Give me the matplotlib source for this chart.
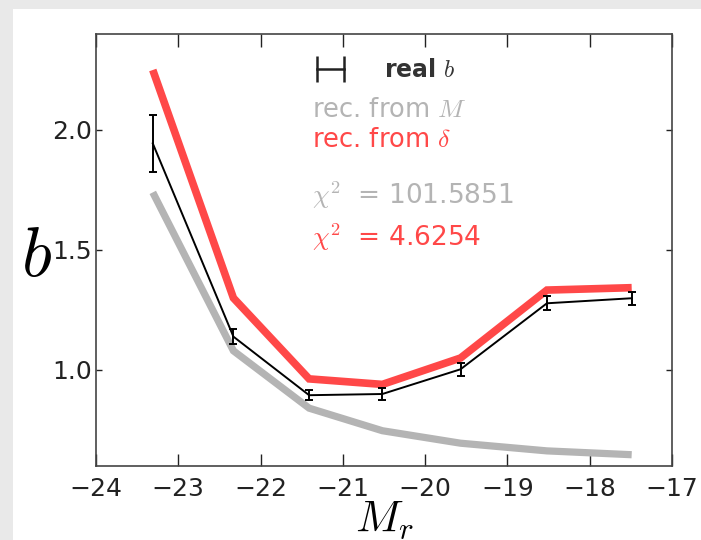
import matplotlib
matplotlib.use("Agg")
import matplotlib.pyplot as plt
from matplotlib.lines import Line2D
from matplotlib.patches import Rectangle
from matplotlib.legend_handler import HandlerLine2D

plt.rcParams['mathtext.fontset'] = 'cm'
plt.rcParams['font.family'] = ['DejaVu Sans']

# Data
mag = [-23.31, -22.33, -21.41, -20.52, -19.57, -18.52, -17.49]
b_real = [1.944, 1.139, 0.895, 0.900, 1.003, 1.278, 1.299]
b_err = [0.119, 0.03, 0.022, 0.024, 0.026, 0.03, 0.027]
b_rec_M = [1.74, 1.08, 0.841, 0.747, 0.695, 0.663, 0.647]
b_rec_delta = [2.25, 1.30, 0.963, 0.940, 1.050, 1.333, 1.343]
chi2_M = "101.5851"
chi2_delta = "4.6254"
xticks = [-24, -23, -22, -21, -20, -19, -18, -17]
yticks = [1.0, 1.5, 2.0]

RED = '#ff4848'
GRAY = '#b4b4b4'

fig = plt.figure(figsize=(7.01, 5.40), dpi=100)
fig.patch.set_facecolor('#e9e9e9')
card = Rectangle((13/701, 0), 1 - 13/701, 1 - 9/540, transform=fig.transFigure,
                 facecolor='white', edgecolor='none', zorder=-5)
fig.add_artist(card)

ax = fig.add_axes([96/701, 1 - 466/540, 576/701, 432/540])
ax.set_facecolor('white')

ax.plot(mag, b_rec_M, color=GRAY, lw=5.2, solid_capstyle='butt', solid_joinstyle='miter', zorder=2)
ax.plot(mag, b_rec_delta, color=RED, lw=5.5, solid_capstyle='butt', solid_joinstyle='miter', zorder=3)
ax.errorbar(mag, b_real, yerr=b_err, color='black', lw=1.4, elinewidth=1.4,
            capsize=2.6, capthick=1.4, zorder=4)

ax.set_xlim(-24, -17)
ax.set_ylim(0.6, 2.4)
ax.set_xticks(xticks)
ax.set_yticks(yticks)
ax.set_yticklabels(['1.0', '1.5', '2.0'])
ax.tick_params(axis='both', direction='in', top=True, right=True, labelsize=18,
               colors='#222222', width=1.0)
ax.tick_params(axis='x', length=9, pad=8)
ax.tick_params(axis='y', length=4, pad=3)
for s in ax.spines.values():
    s.set_color('#444444')
    s.set_linewidth(1.2)

ax.set_xlabel('$M_r$', fontsize=32, labelpad=-2)
ax.set_ylabel('$b$', fontsize=50, rotation=0, labelpad=0, va='center', ha='center')
ax.yaxis.set_label_coords(-0.103, 0.485)

handle = Line2D([], [], color='#222222', lw=1.8, marker='|', markersize=19, mew=1.8)
leg = ax.legend([handle], ['real $b$'], loc='center left', bbox_to_anchor=(0.347, 0.917),
                frameon=False, handlelength=1.15, handletextpad=1.7,
                handler_map={handle: HandlerLine2D(marker_pad=0, numpoints=2)},
                prop={'size': 17, 'weight': 'bold'})
for t in leg.get_texts():
    t.set_color('#333333')

ax.text(0.375, 0.824, 'rec. from $M$', transform=ax.transAxes, color=GRAY,
        fontsize=18.5, va='center', ha='left')
ax.text(0.375, 0.755, r'rec. from $\delta$', transform=ax.transAxes, color=RED,
        fontsize=18.5, va='center', ha='left')
ax.text(0.375, 0.627, r'$\chi^2$  = ' + chi2_M, transform=ax.transAxes, color=GRAY,
        fontsize=19, va='center', ha='left')
ax.text(0.375, 0.530, r'$\chi^2$  = ' + chi2_delta, transform=ax.transAxes, color=RED,
        fontsize=19, va='center', ha='left')

fig.savefig('out.png', dpi=100)
